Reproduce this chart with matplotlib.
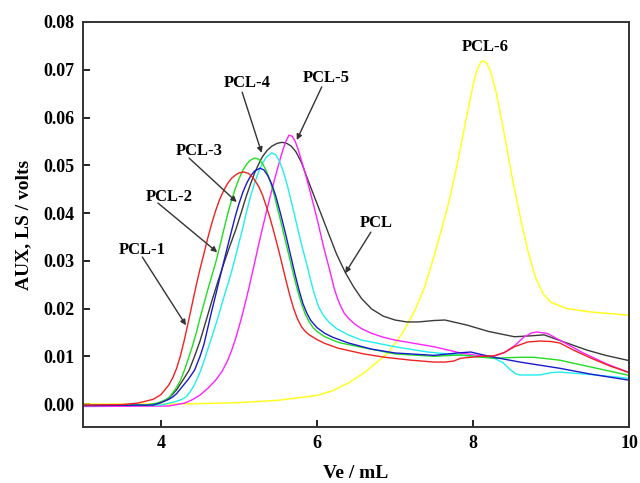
import numpy as np
import matplotlib
matplotlib.use('Agg')
import matplotlib.pyplot as plt

plt.rcParams['font.family'] = ['Liberation Serif', 'DejaVu Serif']
plt.rcParams['font.weight'] = 'bold'

# PCL-1 (red)
ve_pcl1 = [3.0, 3.5, 3.7, 3.9, 4.0, 4.1, 4.15, 4.2, 4.25, 4.3, 4.35, 4.4, 4.45, 4.5,
           4.55, 4.6, 4.65, 4.7, 4.75, 4.8, 4.85, 4.9, 4.95, 5.0, 5.06, 5.12, 5.18,
           5.25, 5.3, 5.35, 5.4, 5.45, 5.5, 5.55, 5.6, 5.65, 5.7, 5.75, 5.8, 5.85,
           5.9, 6.0, 6.1, 6.27, 6.6, 6.87, 7.2, 7.5, 7.64, 7.75, 7.84, 8.1, 8.27,
           8.4, 8.53, 8.7, 8.86, 9.0, 9.11, 9.3, 9.5, 9.75, 10.0]
aux_pcl1 = [-0.0002, -0.0001, 0.0002, 0.0010, 0.0020, 0.0040, 0.0055, 0.0075, 0.0102,
            0.0135, 0.0172, 0.0210, 0.0248, 0.0283, 0.0315, 0.0348, 0.0378, 0.0405,
            0.0428, 0.0446, 0.0461, 0.0472, 0.0479, 0.0484, 0.0486, 0.0483, 0.0474,
            0.0456, 0.0438, 0.0414, 0.0388, 0.0358, 0.0327, 0.0294, 0.0260, 0.0228,
            0.0200, 0.0178, 0.0162, 0.0152, 0.0145, 0.0135, 0.0127, 0.0117, 0.0105,
            0.0098, 0.0092, 0.0088, 0.0088, 0.0090, 0.0096, 0.0100, 0.0101, 0.0108,
            0.0120, 0.0130, 0.0132, 0.0131, 0.0128, 0.0112, 0.0097, 0.0080, 0.0066]

# PCL-2 (green)
ve_pcl2 = [3.0, 3.8, 3.95, 4.05, 4.11, 4.2, 4.25, 4.3, 4.35, 4.4, 4.45, 4.5, 4.55, 4.6,
           4.65, 4.7, 4.75, 4.8, 4.85, 4.9, 4.95, 5.0, 5.05, 5.1, 5.15, 5.2, 5.25, 5.3,
           5.35, 5.4, 5.45, 5.5, 5.55, 5.6, 5.65, 5.7, 5.75, 5.8, 5.85, 5.9, 5.95, 6.0,
           6.1, 6.2, 6.3, 6.6, 7.0, 7.5, 7.84, 8.0, 8.27, 8.6, 8.78, 9.11, 9.5, 10.0]
aux_pcl2 = [-0.0003, -0.0002, 0.0002, 0.0008, 0.0015, 0.0035, 0.0050, 0.0071, 0.0095,
            0.0120, 0.0148, 0.0180, 0.0210, 0.0240, 0.0268, 0.0296, 0.0328, 0.0362,
            0.0395, 0.0425, 0.0450, 0.0472, 0.0490, 0.0503, 0.0511, 0.0515, 0.0513,
            0.0504, 0.0488, 0.0466, 0.0438, 0.0405, 0.0372, 0.0338, 0.0304, 0.0270,
            0.0238, 0.0210, 0.0188, 0.0172, 0.0160, 0.0152, 0.0141, 0.0134, 0.0128,
            0.0118, 0.0105, 0.0100, 0.0103, 0.0100, 0.0096, 0.0098, 0.0098, 0.0092,
            0.0078, 0.0060]

# PCL-3 (blue)
ve_pcl3 = [3.0, 3.9, 4.0, 4.1, 4.15, 4.2, 4.25, 4.3, 4.35, 4.43, 4.5, 4.55, 4.6, 4.65,
           4.7, 4.75, 4.8, 4.85, 4.9, 4.95, 5.0, 5.05, 5.1, 5.15, 5.2, 5.27, 5.32, 5.37,
           5.42, 5.47, 5.52, 5.57, 5.62, 5.67, 5.72, 5.77, 5.82, 5.87, 5.92, 6.0, 6.1,
           6.2, 6.4, 6.7, 7.0, 7.5, 7.8, 7.97, 8.1, 8.27, 8.6, 9.11, 9.5, 10.0]
aux_pcl3 = [-0.0003, -0.0002, 0.0003, 0.0010, 0.0015, 0.0022, 0.0032, 0.0042, 0.0052,
            0.0071, 0.0100, 0.0125, 0.0160, 0.0195, 0.0228, 0.0262, 0.0295, 0.0328,
            0.0360, 0.0392, 0.0420, 0.0444, 0.0463, 0.0478, 0.0488, 0.0494, 0.0490,
            0.0478, 0.0460, 0.0436, 0.0406, 0.0374, 0.0340, 0.0305, 0.0270, 0.0238,
            0.0210, 0.0190, 0.0175, 0.0160, 0.0148, 0.0140, 0.0128, 0.0115, 0.0107,
            0.0102, 0.0107, 0.0109, 0.0104, 0.0098, 0.0088, 0.0075, 0.0063, 0.0050]

# PCL-4 (cyan)
ve_pcl4 = [3.0, 4.0, 4.1, 4.2, 4.27, 4.32, 4.37, 4.42, 4.46, 4.51, 4.56, 4.62, 4.67,
           4.72, 4.77, 4.82, 4.87, 4.91, 4.96, 5.0, 5.05, 5.1, 5.15, 5.2, 5.25, 5.3,
           5.35, 5.42, 5.47, 5.52, 5.57, 5.62, 5.67, 5.72, 5.77, 5.82, 5.87, 5.92,
           5.97, 6.02, 6.08, 6.15, 6.25, 6.4, 6.57, 7.0, 7.42, 7.8, 8.0, 8.27, 8.38,
           8.47, 8.55, 8.6, 8.86, 9.0, 9.11, 9.5, 10.0]
aux_pcl4 = [-0.0003, -0.0002, 0.0002, 0.0006, 0.0010, 0.0015, 0.0025, 0.0038, 0.0052,
            0.0071, 0.0095, 0.0125, 0.0150, 0.0176, 0.0204, 0.0232, 0.0258, 0.0281,
            0.0312, 0.0338, 0.0370, 0.0405, 0.0436, 0.0463, 0.0486, 0.0504, 0.0517,
            0.0526, 0.0522, 0.0508, 0.0486, 0.0457, 0.0424, 0.0390, 0.0355, 0.0322,
            0.0292, 0.0258, 0.0228, 0.0204, 0.0186, 0.0172, 0.0158, 0.0145, 0.0134,
            0.0120, 0.0109, 0.0103, 0.0100, 0.0096, 0.0087, 0.0073, 0.0063, 0.0061,
            0.0061, 0.0066, 0.0067, 0.0062, 0.0054]

# PCL-5 (magenta)
ve_pcl5 = [3.0, 4.1, 4.3, 4.4, 4.5, 4.6, 4.7, 4.78, 4.85, 4.9, 4.95, 5.0, 5.05, 5.1,
           5.15, 5.2, 5.25, 5.3, 5.35, 5.4, 5.45, 5.5, 5.55, 5.6, 5.64, 5.68, 5.72,
           5.76, 5.8, 5.85, 5.9, 5.95, 6.0, 6.04, 6.08, 6.12, 6.15, 6.19, 6.22, 6.26,
           6.3, 6.35, 6.4, 6.48, 6.57, 6.7, 6.85, 7.0, 7.5, 7.84, 8.18, 8.3, 8.4, 8.53,
           8.65, 8.75, 8.82, 8.95, 9.11, 9.4, 9.7, 10.0]
aux_pcl5 = [-0.0005, -0.0004, 0.0002, 0.0009, 0.0019, 0.0033, 0.0050, 0.0068, 0.0090,
            0.0110, 0.0134, 0.0162, 0.0192, 0.0225, 0.0260, 0.0296, 0.0333, 0.0368,
            0.0402, 0.0435, 0.0467, 0.0497, 0.0526, 0.0550, 0.0563, 0.0561, 0.0550,
            0.0532, 0.0510, 0.0482, 0.0452, 0.0420, 0.0388, 0.0360, 0.0332, 0.0306,
            0.0288, 0.0262, 0.0242, 0.0222, 0.0206, 0.0190, 0.0180, 0.0168, 0.0158,
            0.0148, 0.0140, 0.0134, 0.0120, 0.0107, 0.0099, 0.0102, 0.0108, 0.0122,
            0.0140, 0.0149, 0.0151, 0.0148, 0.0134, 0.0108, 0.0085, 0.0066]

# PCL (black)
ve_pcl = [3.0, 3.9, 4.0, 4.1, 4.2, 4.28, 4.36, 4.43, 4.5, 4.58, 4.65, 4.72, 4.8, 4.88,
          4.96, 5.03, 5.09, 5.15, 5.2, 5.25, 5.3, 5.36, 5.42, 5.49, 5.55, 5.61, 5.67,
          5.73, 5.8, 5.89, 5.98, 6.07, 6.15, 6.25, 6.36, 6.47, 6.57, 6.7, 6.85, 7.0,
          7.15, 7.3, 7.5, 7.64, 7.8, 7.93, 8.2, 8.53, 8.75, 8.91, 9.2, 9.46, 9.7, 10.0]
aux_pcl = [-0.0003, -0.0002, 0.0004, 0.0012, 0.0030, 0.0050, 0.0071, 0.0100, 0.0132,
           0.0176, 0.0215, 0.0252, 0.0292, 0.0330, 0.0366, 0.0402, 0.0434, 0.0462,
           0.0484, 0.0502, 0.0518, 0.0531, 0.0540, 0.0546, 0.0548, 0.0546, 0.0540,
           0.0528, 0.0506, 0.0466, 0.0428, 0.0390, 0.0356, 0.0314, 0.0276, 0.0245,
           0.0221, 0.0199, 0.0184, 0.0176, 0.0172, 0.0172, 0.0175, 0.0176, 0.0170,
           0.0165, 0.0152, 0.0141, 0.0143, 0.0145, 0.0128, 0.0113, 0.0102, 0.0091]

# PCL-6 (yellow)
ve_pcl6 = [3.0, 4.0, 4.5, 5.0, 5.5, 6.0, 6.2, 6.4, 6.6, 6.91, 7.1, 7.25, 7.38, 7.5, 7.6,
           7.7, 7.8, 7.9, 8.0, 8.05, 8.1, 8.13, 8.17, 8.22, 8.3, 8.4, 8.5, 8.6, 8.7,
           8.8, 8.9, 9.0, 9.2, 9.5, 10.0]
aux_pcl6 = [0.0, 0.0, 0.0001, 0.0003, 0.0008, 0.0018, 0.0028, 0.0044, 0.0065, 0.0107,
            0.0150, 0.0195, 0.0245, 0.0310, 0.0368, 0.0430, 0.0505, 0.0588, 0.0668,
            0.0700, 0.0716, 0.0719, 0.0715, 0.0698, 0.0650, 0.0565, 0.0475, 0.0395,
            0.0322, 0.0265, 0.0230, 0.0213, 0.0200, 0.0193, 0.0186]

fig = plt.figure(figsize=(6.4, 4.83), dpi=100)
ax = fig.add_axes([0.1297, 0.1159, 0.8533, 0.8386])

ax.plot(ve_pcl6, aux_pcl6, color='#ffff22', lw=1.1)
ax.plot(ve_pcl, aux_pcl, color='#3a3a3a', lw=1.0)
ax.plot(ve_pcl5, aux_pcl5, color='#ff22ff', lw=1.0)
ax.plot(ve_pcl4, aux_pcl4, color='#22eeee', lw=1.0)
ax.plot(ve_pcl2, aux_pcl2, color='#22dd22', lw=1.0)
ax.plot(ve_pcl3, aux_pcl3, color='#1a1acc', lw=1.0)
ax.plot(ve_pcl1, aux_pcl1, color='#ee2222', lw=1.0)

# labels with arrows
labels = ['PCL-1', 'PCL-2', 'PCL-3', 'PCL-4', 'PCL-5', 'PCL', 'PCL-6']
text_pos = [(3.76, 0.0323), (4.11, 0.0434), (4.49, 0.0530), (5.10, 0.0672),
            (6.12, 0.0683), (6.76, 0.0379), (8.16, 0.0748)]
arrow_from = [(3.76, 0.0308), (3.96, 0.0421), (4.36, 0.0515), (5.04, 0.0653),
              (6.06, 0.0664), (6.69, 0.0360), None]
arrow_to = [(4.32, 0.0165), (4.72, 0.0318), (4.97, 0.0423), (5.29, 0.0526),
            (5.74, 0.0553), (6.36, 0.0274), None]

for lab, tp, a0, a1 in zip(labels, text_pos, arrow_from, arrow_to):
    ax.text(tp[0], tp[1], lab, ha='center', va='center', fontsize=12,
            fontweight='bold')
    if a0 is not None:
        ax.annotate('', xy=a1, xytext=a0,
                    arrowprops=dict(arrowstyle='-|>', color='#333333', lw=1.0,
                                    mutation_scale=8, shrinkA=0, shrinkB=0))

ax.set_xlim(3, 10)
ax.set_ylim(-0.0048, 0.08)
ax.set_xticks([4, 6, 8, 10])
ax.set_yticks(np.arange(0, 0.081, 0.01))
ax.yaxis.set_major_formatter(matplotlib.ticker.FormatStrFormatter('%.2f'))
ax.tick_params(direction='in', length=5, width=1.2, labelsize=13, pad=6)
for lab in ax.get_xticklabels() + ax.get_yticklabels():
    lab.set_fontweight('bold')
for sp in ax.spines.values():
    sp.set_linewidth(1.4)
    sp.set_color('#333333')

ax.set_xlabel('Ve / mL', fontsize=14, fontweight='bold', labelpad=9)
ax.set_ylabel('AUX, LS / volts', fontsize=14, fontweight='bold', labelpad=8)

fig.savefig('out.png', dpi=100)
